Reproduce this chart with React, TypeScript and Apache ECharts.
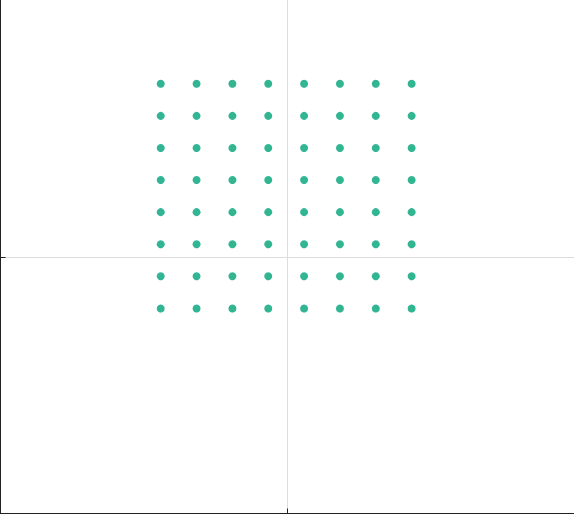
import React, { useEffect, useRef } from "react";
import * as echarts from "echarts";

const xValues = [-3.53, -2.53, -1.53, -0.53, 0.47, 1.47, 2.47, 3.47];
const yValues = [5.39, 4.39, 3.39, 2.39, 1.39, 0.39, -0.61, -1.61];
const xRange = [-8, 8];
const yRange = [-8, 8];
const tickValues = [0];

export default function App() {
  const ref = useRef<HTMLDivElement>(null);
  useEffect(() => {
    if (!ref.current) return;
    const chart = echarts.init(ref.current, undefined, { renderer: "svg" });
    const data: number[][] = [];
    for (const y of yValues) for (const x of xValues) data.push([x, y]);
    const axisCommon = {
      type: "value",
      interval: 8,
      axisLine: { show: true, onZero: false, lineStyle: { color: "#222", width: 1 } },
      axisTick: { show: true, inside: true, length: 5, customValues: tickValues, lineStyle: { color: "#222" } },
      axisLabel: { show: false },
      splitLine: { show: true, lineStyle: { color: "#dddddd" } },
    };
    chart.setOption({
      animation: false,
      grid: { left: 0.5, right: 0, top: 0, bottom: 0.5, containLabel: false },
      xAxis: { ...axisCommon, min: xRange[0], max: xRange[1] },
      yAxis: { ...axisCommon, min: yRange[0], max: yRange[1] },
      series: [
        {
          type: "scatter",
          data,
          symbolSize: 8,
          itemStyle: { color: "#31b593", opacity: 1 },
        },
      ],
    });
    return () => chart.dispose();
  }, []);
  return (
    <div
      ref={ref}
      style={{ position: "fixed", left: 0, top: 0, width: 574, height: 514, background: "#fff" }}
    />
  );
}
